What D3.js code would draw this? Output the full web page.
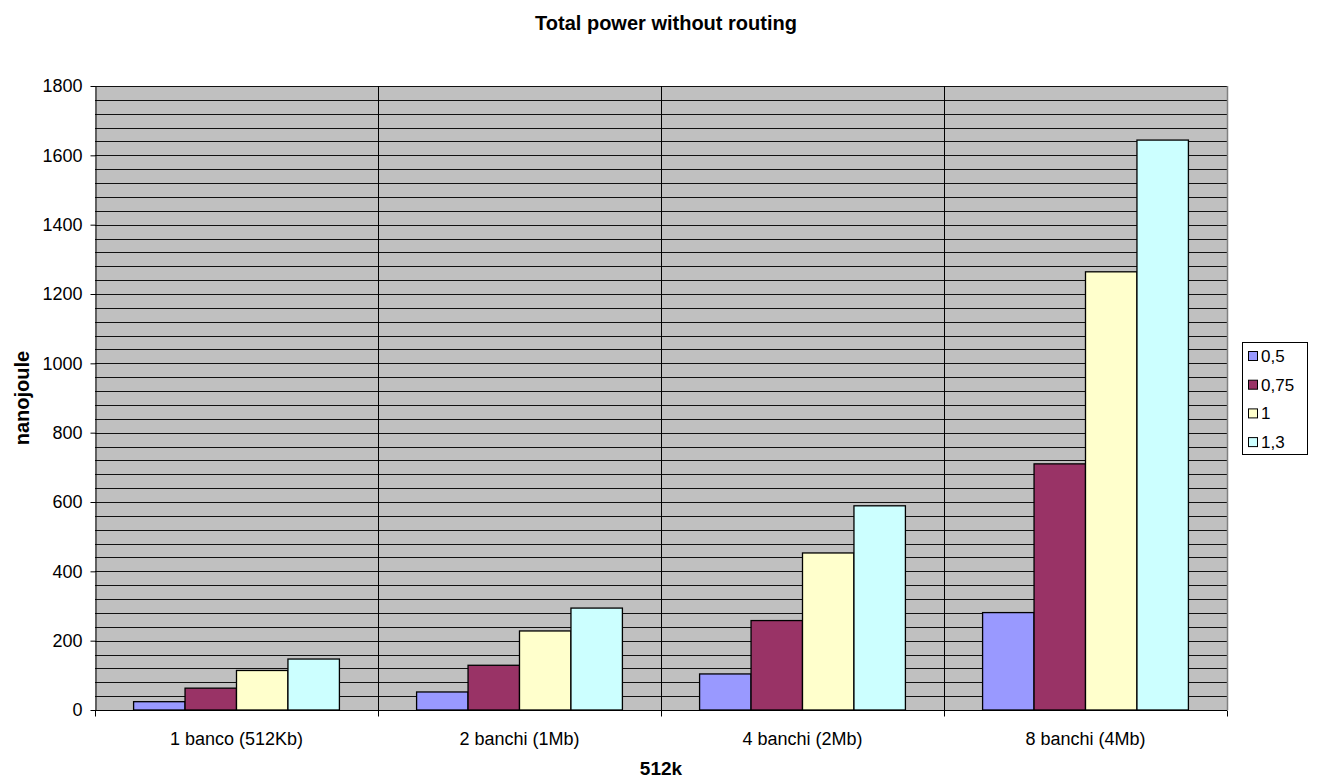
<!DOCTYPE html>
<html>
<head>
<meta charset="utf-8">
<script src="https://cdn.jsdelivr.net/npm/d3@7"></script>
<style>
  html, body { margin: 0; padding: 0; background: #fff; }
  text { font-family: "Liberation Sans", Arial, sans-serif; }
</style>
</head>
<body>
<svg id="chart" width="1317" height="781"></svg>
<script>
// Bank configurations on the x axis
const categories = ["1 banco (512Kb)", "2 banchi (1Mb)", "4 banchi (2Mb)", "8 banchi (4Mb)"];
// Supply voltage series
const seriesNames = ["0,5", "0,75", "1", "1,3"];
const seriesColors = ["#9999FF", "#993366", "#FFFFCC", "#CCFFFF"];
// Energy in nanojoule, one array per series (indexed by category)
const values05  = [24, 52, 104, 281];
const values075 = [63, 129, 258, 710];
const values1   = [114, 228, 453, 1264];
const values13  = [147, 294, 589, 1644];
const yTicks = [0, 200, 400, 600, 800, 1000, 1200, 1400, 1600, 1800];

const seriesValues = [values05, values075, values1, values13];

const svg = d3.select("#chart");
const plotLeft = 95, plotRight = 1227, plotTop = 86, plotBottom = 710;

const x0 = d3.scaleBand().domain(categories).range([plotLeft, plotRight]).paddingInner(0).paddingOuter(0);
const x1 = d3.scaleBand().domain(seriesNames).range([0, x0.bandwidth()]).paddingInner(0).paddingOuter(0.75);
const y = d3.scaleLinear().domain([0, 1800]).range([plotBottom, plotTop]);

// Plot background
svg.append("rect")
  .attr("x", plotLeft).attr("y", plotTop)
  .attr("width", plotRight - plotLeft).attr("height", plotBottom - plotTop)
  .attr("fill", "#C0C0C0");

// Horizontal gridlines every 40 units
const gridVals = d3.range(40, 1800.1, 40);
svg.append("g").selectAll("line").data(gridVals).join("line")
  .attr("x1", plotLeft).attr("x2", plotRight)
  .attr("y1", d => Math.round(y(d)) + 0.5).attr("y2", d => Math.round(y(d)) + 0.5)
  .attr("stroke", "#111").attr("stroke-width", 1);

// Vertical gridlines between categories
svg.append("g").selectAll("line").data(categories.slice(1)).join("line")
  .attr("x1", d => Math.round(x0(d)) + 0.5).attr("x2", d => Math.round(x0(d)) + 0.5)
  .attr("y1", plotTop).attr("y2", plotBottom)
  .attr("stroke", "#000").attr("stroke-width", 1);

// Right border of plot area
svg.append("line")
  .attr("x1", plotRight + 0.5).attr("x2", plotRight + 0.5)
  .attr("y1", plotTop).attr("y2", plotBottom)
  .attr("stroke", "#808080").attr("stroke-width", 1.5);

// Bars
const groups = svg.append("g").selectAll("g").data(categories).join("g")
  .attr("transform", d => `translate(${x0(d)},0)`);
groups.selectAll("rect")
  .data((c, ci) => seriesNames.map((s, si) => ({ s, si, v: seriesValues[si][ci] })))
  .join("rect")
  .attr("x", d => x1(d.s))
  .attr("y", d => y(d.v))
  .attr("width", x1.bandwidth())
  .attr("height", d => plotBottom - y(d.v))
  .attr("fill", d => seriesColors[d.si])
  .attr("stroke", "#000")
  .attr("stroke-width", 1.3);

// Y axis
const yAxis = d3.axisLeft(y).tickValues(yTicks).tickFormat(d3.format("d"))
  .tickSize(5).tickSizeOuter(0).tickPadding(8);
const gy = svg.append("g").attr("transform", `translate(${plotLeft + 0.5},0)`).call(yAxis);
gy.attr("font-family", null).attr("font-size", null);
gy.selectAll("text").attr("font-size", 18).attr("fill", "#000");
gy.selectAll("line").attr("stroke", "#000");
gy.select(".domain").attr("stroke", "#000");

// X axis with ticks at category boundaries
const gx = svg.append("g").attr("transform", `translate(0,${plotBottom + 0.5})`);
gx.append("line").attr("x1", plotLeft).attr("x2", plotRight).attr("stroke", "#000");
const bounds = categories.map(c => x0(c)).concat([plotRight]);
gx.selectAll("line.tk").data(bounds).join("line").attr("class", "tk")
  .attr("x1", d => Math.round(d) + 0.5).attr("x2", d => Math.round(d) + 0.5)
  .attr("y1", 0).attr("y2", 6).attr("stroke", "#000");
gx.selectAll("text").data(categories).join("text")
  .attr("x", d => x0(d) + x0.bandwidth() / 2)
  .attr("y", 34)
  .attr("text-anchor", "middle")
  .attr("font-size", 18)
  .text(d => d);

// Title and axis titles
svg.append("text")
  .attr("x", 666).attr("y", 30)
  .attr("text-anchor", "middle")
  .attr("font-size", 20).attr("font-weight", "bold")
  .text("Total power without routing");
svg.append("text")
  .attr("transform", `translate(29,${(plotTop + plotBottom) / 2}) rotate(-90)`)
  .attr("text-anchor", "middle")
  .attr("font-size", 20).attr("font-weight", "bold")
  .text("nanojoule");
svg.append("text")
  .attr("x", 661).attr("y", 775)
  .attr("text-anchor", "middle")
  .attr("font-size", 19).attr("font-weight", "bold")
  .text("512k");

// Legend
const legend = svg.append("g");
legend.append("rect")
  .attr("x", 1242.5).attr("y", 342.5).attr("width", 65).attr("height", 112)
  .attr("fill", "#fff").attr("stroke", "#000").attr("stroke-width", 1);
const items = legend.selectAll("g.item").data(seriesNames).join("g").attr("class", "item")
  .attr("transform", (d, i) => `translate(1248,${356 + i * 28.7})`);
items.append("rect")
  .attr("x", 0.5).attr("y", -4.5).attr("width", 9).attr("height", 9)
  .attr("fill", (d, i) => seriesColors[i]).attr("stroke", "#000");
items.append("text")
  .attr("x", 13).attr("y", 6)
  .attr("font-size", 17)
  .text(d => d);
</script>
</body>
</html>
